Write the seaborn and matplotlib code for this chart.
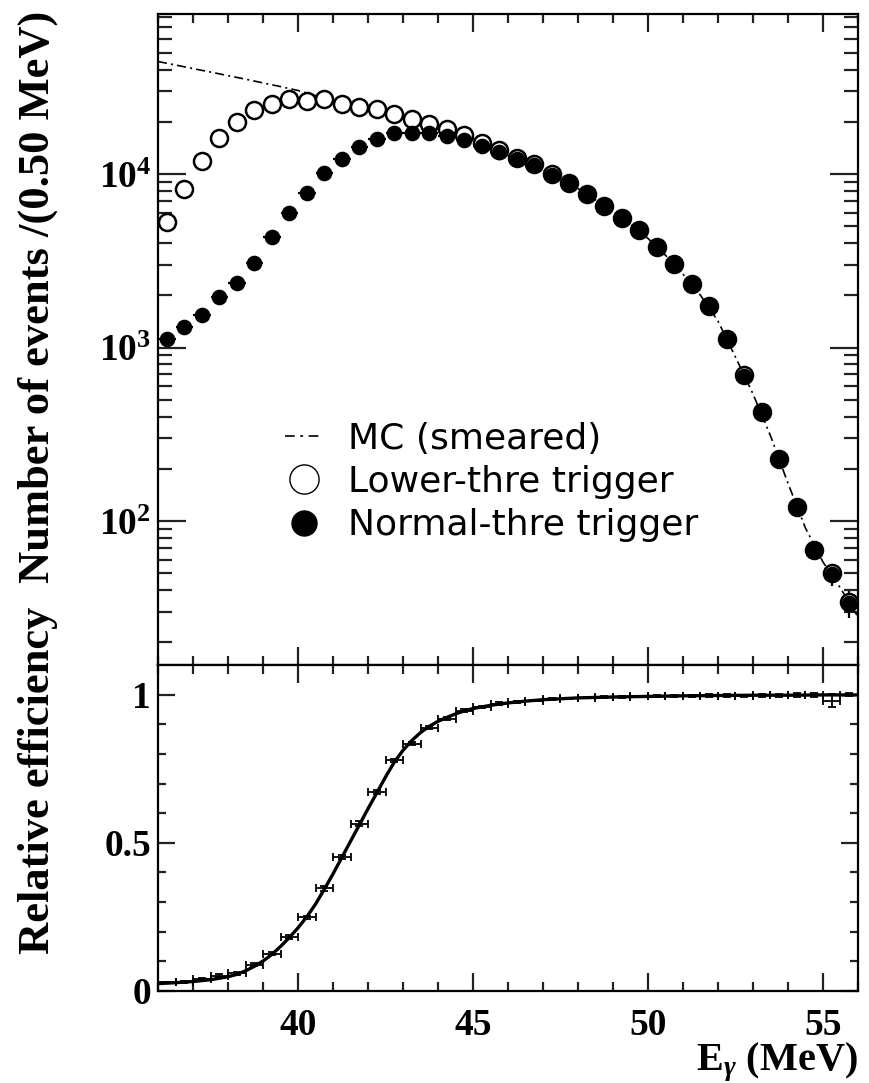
import numpy as np
import matplotlib
matplotlib.use("Agg")
import matplotlib.pyplot as plt
from matplotlib.lines import Line2D
from matplotlib.ticker import FixedLocator, NullFormatter, MultipleLocator
import seaborn as sns

# ---------------- data ----------------
energy = [36.25, 36.75, 37.25, 37.75, 38.25, 38.75, 39.25, 39.75, 40.25, 40.75,
          41.25, 41.75, 42.25, 42.75, 43.25, 43.75, 44.25, 44.75, 45.25, 45.75,
          46.25, 46.75, 47.25, 47.75, 48.25, 48.75, 49.25, 49.75, 50.25, 50.75,
          51.25, 51.75, 52.25, 52.75, 53.25, 53.75, 54.25, 54.75, 55.25, 55.75]

lower_thre = [5290, 8200, 11850, 16050, 19950, 23400, 25300, 26900, 26500, 26900,
              25300, 24400, 23600, 22200, 20700, 19400, 18250, 16800, 15150, 13750,
              12350, 11350, 9950, 8900, 7720, 6580, 5590, 4780, 3820, 3045,
              2325, 1745, 1120, 690, 425, 228, 121, 68, 50, 34]

normal_thre = [1115, 1310, 1540, 1960, 2340, 3060, 4320, 5940, 7740, 10170,
               12150, 14370, 15850, 17170, 17300, 17170, 16630, 15700, 14560, 13450,
               12200, 11270, 9870, 8840, 7670, 6540, 5555, 4755, 3795, 3030,
               2313, 1735, 1115, 685, 423, 227, 120, 68, 49.5, 33.5]

normal_err = [33, 36, 39, 44, 48, 55, 66, 77, 88, 101,
              110, 120, 126, 131, 132, 131, 129, 125, 121, 116,
              110, 106, 99, 94, 88, 81, 75, 69, 62, 55,
              48, 42, 33, 26, 21, 15, 11, 8, 7, 6]

mc_energy = [36.0, 36.5, 37.0, 37.5, 38.0, 38.5, 39.0, 39.5, 40.0, 40.5,
             41.0, 41.5, 42.0, 42.5, 43.0, 43.5, 44.0, 44.5, 45.0, 45.5,
             46.0, 46.5, 47.0, 47.5, 48.0, 48.5, 49.0, 49.5, 50.0, 50.5,
             51.0, 51.5, 52.0, 52.5, 53.0, 53.5, 54.0, 54.5, 55.0, 55.5, 56.0]
mc_smeared = [44500, 42500, 40500, 38700, 36900, 35200, 33500, 31900, 30300, 28300,
              26800, 25300, 24000, 22800, 21400, 20000, 18900, 17500, 15950, 14300,
              12800, 11750, 10550, 9350, 8250, 7100, 6050, 5150, 4250, 3400,
              2650, 2000, 1420, 880, 540, 310, 165, 91, 58, 41, 28]

efficiency = [0.029, 0.031, 0.040, 0.052, 0.060, 0.088, 0.126, 0.182, 0.248, 0.346,
              0.451, 0.565, 0.672, 0.778, 0.835, 0.888, 0.919, 0.946, 0.958, 0.970,
              0.975, 0.980, 0.984, 0.987, 0.990, 0.992, 0.993, 0.994, 0.995, 0.996,
              0.996, 0.997, 0.997, 0.995, 0.998, 0.998, 0.999, 0.999, 0.980, 1.000]
efficiency_err = [0.003, 0.003, 0.004, 0.004, 0.005, 0.005, 0.006, 0.006, 0.006, 0.007,
                  0.007, 0.007, 0.007, 0.006, 0.006, 0.005, 0.005, 0.004, 0.004, 0.004,
                  0.004, 0.003, 0.003, 0.003, 0.003, 0.003, 0.003, 0.003, 0.003, 0.003,
                  0.003, 0.004, 0.004, 0.004, 0.005, 0.005, 0.006, 0.008, 0.023, 0.006]

fit_energy = [36.0, 36.5, 37.0, 37.5, 38.0, 38.25, 38.5, 38.75, 39.0, 39.25,
              39.5, 39.75, 40.0, 40.25, 40.5, 40.75, 41.0, 41.25, 41.5, 41.75,
              42.0, 42.25, 42.5, 42.75, 43.0, 43.25, 43.5, 43.75, 44.0, 44.25,
              44.5, 44.75, 45.0, 45.5, 46.0, 46.5, 47.0, 47.5, 48.0, 49.0,
              50.0, 51.0, 52.0, 53.0, 54.0, 55.0, 56.0]
fit_efficiency = [0.025, 0.028, 0.032, 0.038, 0.048, 0.056, 0.068, 0.083, 0.101, 0.123,
                  0.150, 0.180, 0.213, 0.250, 0.293, 0.343, 0.395, 0.450, 0.505, 0.560,
                  0.615, 0.668, 0.722, 0.772, 0.812, 0.845, 0.872, 0.893, 0.910, 0.923,
                  0.935, 0.945, 0.953, 0.964, 0.972, 0.978, 0.983, 0.986, 0.989, 0.992,
                  0.994, 0.996, 0.997, 0.998, 0.998, 0.999, 0.999]

bin_half = 0.25

# ---------------- style ----------------
sns.set_theme(style="ticks")
plt.rcParams["font.family"] = ["Liberation Serif", "DejaVu Serif"]
plt.rcParams["font.weight"] = "bold"
plt.rcParams["mathtext.fontset"] = "custom"
plt.rcParams["mathtext.rm"] = "Liberation Serif:bold"
plt.rcParams["mathtext.bf"] = "Liberation Serif:bold"
plt.rcParams["mathtext.it"] = "Liberation Serif:italic"
plt.rcParams["lines.scale_dashes"] = False
plt.rcParams["axes.linewidth"] = 1.6
for key in ("text.color", "axes.labelcolor", "xtick.color", "ytick.color",
            "axes.edgecolor", "xtick.labelcolor", "ytick.labelcolor"):
    plt.rcParams[key] = "black"

fig = plt.figure(figsize=(8.69, 10.83), dpi=100)
ax1 = fig.add_axes([0.18182, 0.38596, 0.80552, 0.60111])
ax2 = fig.add_axes([0.18182, 0.08495, 0.80552, 0.30102])

mc_style = (0, (6.5, 3, 1.5, 3))
TICK_FS = 27
LABEL_FS = 32

# ---------------- upper panel ----------------
sns.lineplot(x=mc_energy, y=mc_smeared, ax=ax1, color="black", linewidth=1.2,
             linestyle=mc_style, zorder=2)
ax1.errorbar(energy, normal_thre, xerr=bin_half, yerr=normal_err, fmt="none",
             ecolor="black", elinewidth=1.6, capsize=0, zorder=3)
sns.scatterplot(x=energy, y=lower_thre, ax=ax1, marker="o", s=150,
                facecolor="white", edgecolor="black", linewidth=1.8, zorder=4)
sns.scatterplot(x=energy, y=normal_thre, ax=ax1, marker="o", s=105,
                color="black", edgecolor="black", linewidth=1.0, zorder=5)

ax1.set_yscale("log")
ax1.set_xlim(36, 56)
ax1.set_ylim(14.8, 83600)
ax1.set_yticks([100, 1000, 10000])
ax1.set_yticklabels([r"$\mathbf{10^{2}}$", r"$\mathbf{10^{3}}$", r"$\mathbf{10^{4}}$"])
minor_vals = [v * m for v in (10, 100, 1000, 10000) for m in range(2, 10)]
ax1.yaxis.set_minor_locator(FixedLocator(minor_vals))
ax1.yaxis.set_minor_formatter(NullFormatter())
ax1.xaxis.set_major_locator(MultipleLocator(5))
ax1.xaxis.set_minor_locator(MultipleLocator(1))
ax1.tick_params(axis="x", which="both", labelbottom=False)
ax1.tick_params(axis="both", which="both", direction="in", top=True, right=True,
                color="#222222")
ax1.tick_params(axis="x", which="major", length=13, width=1.6)
ax1.tick_params(axis="x", which="minor", length=6.5, width=1.6)
ax1.tick_params(axis="y", which="major", length=20, width=1.6, labelsize=TICK_FS, pad=5)
ax1.tick_params(axis="y", which="minor", length=10, width=1.6)
ax1.set_ylabel("Number of events /(0.50 MeV)", fontsize=LABEL_FS, fontweight="bold")
ax1.yaxis.set_label_coords(-0.143, 0.565)

handles = [
    Line2D([], [], color="black", linewidth=1.2, linestyle=(0, (7, 4, 2, 4))),
    Line2D([], [], marker="o", linestyle="none", markersize=21,
           markerfacecolor="white", markeredgecolor="black", markeredgewidth=1.0),
    Line2D([], [], marker="o", linestyle="none", markersize=18,
           markerfacecolor="black", markeredgecolor="black"),
]
labels = ["MC (smeared)", "Lower-thre trigger", "Normal-thre trigger"]
ax1.legend(handles, labels, loc="upper left", bbox_to_anchor=(0.181, 0.374),
           frameon=False, prop={"family": "DejaVu Sans", "size": 26, "weight": "normal"},
           handlelength=1.05, handletextpad=0.7, labelspacing=0.26,
           borderpad=0, borderaxespad=0)

# ---------------- lower panel ----------------
sns.lineplot(x=fit_energy, y=fit_efficiency, ax=ax2, color="black", linewidth=2.4,
             zorder=2)
ax2.errorbar(energy, efficiency, xerr=bin_half, yerr=efficiency_err, fmt="none",
             ecolor="black", elinewidth=1.3, capsize=3, capthick=1.3, zorder=3)
ax2.set_xlim(36, 56)
ax2.set_ylim(0, 1.1)
ax2.set_yticks([0, 0.5, 1])
ax2.set_yticklabels(["0", "0.5", "1"])
ax2.yaxis.set_minor_locator(FixedLocator([0.1, 0.2, 0.3, 0.4, 0.6, 0.7, 0.8, 0.9]))
ax2.xaxis.set_major_locator(MultipleLocator(5))
ax2.xaxis.set_minor_locator(MultipleLocator(1))
ax2.tick_params(axis="both", which="both", direction="in", top=True, right=True,
                color="#222222")
ax2.tick_params(axis="x", which="major", length=13, width=1.6, labelsize=TICK_FS, pad=12)
ax2.tick_params(axis="x", which="minor", length=6.5, width=1.6)
ax2.tick_params(axis="y", which="major", length=12, width=1.6, labelsize=TICK_FS, pad=5)
ax2.tick_params(axis="y", which="minor", length=6, width=1.6)
for lab in ax2.get_xticklabels() + ax2.get_yticklabels():
    lab.set_fontweight("bold")
ax2.set_ylabel("Relative efficiency", fontsize=LABEL_FS, fontweight="bold")
ax2.yaxis.set_label_coords(-0.143, 0.647)
ax2.set_xlabel(r"E$_{\gamma}$ (MeV)", fontsize=29, fontweight="bold", loc="right")
ax2.xaxis.set_label_coords(1.0, -0.152)

fig.savefig("out.png", dpi=100)
